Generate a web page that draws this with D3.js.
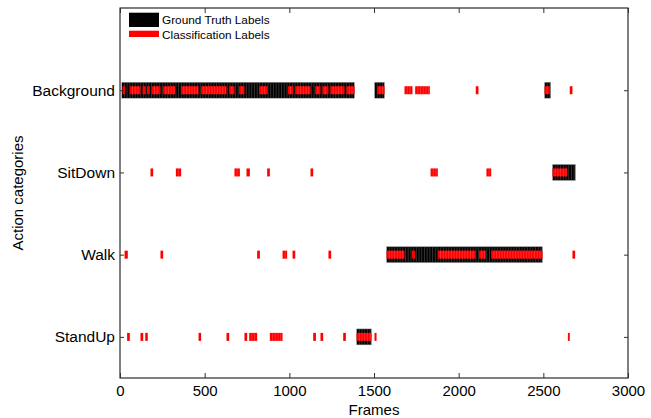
<!DOCTYPE html>
<html>
<head>
<meta charset="utf-8">
<script src="https://cdn.jsdelivr.net/npm/d3@7"></script>
<style>
  html, body { margin: 0; padding: 0; background: #fff; }
  svg { display: block; font-family: "Liberation Sans", Arial, sans-serif; }
</style>
</head>
<body>
<svg id="chart" width="651" height="418"></svg>
<script>
// ---- data ----
const categories = ["StandUp", "Walk", "SitDown", "Background"]; // bottom -> top
const xTicks = [0, 500, 1000, 1500, 2000, 2500, 3000];

// ground truth segments [startFrame, endFrame, category]
const groundTruth = [
  [10, 1385, "Background"],
  [1397, 1485, "StandUp"],
  [1503, 1562, "Background"],
  [1574, 2495, "Walk"],
  [2507, 2543, "Background"],
  [2554, 2690, "SitDown"]
];

// classification segments per category [startFrame, endFrame]
const classBackground = [[15,30],[58,121],[133,152],[160,176],[188,239],[255,326],[361,464],[479,629],[645,676],[704,735],[822,873],[991,1023],[1035,1125],[1153,1184],[1196,1231],[1243,1326],[1338,1385],[1519,1562],[1680,1727],[1743,1830],[2101,2117],[2507,2538],[2656,2672]];
const classSitDown = [[180,196],[330,361],[676,708],[747,767],[869,885],[1125,1141],[1834,1877],[2164,2192],[2554,2641]];
const classWalk = [[27,46],[239,255],[810,826],[960,987],[1019,1035],[1231,1247],[1574,1680],[1723,1743],[1877,2101],[2121,2160],[2192,2495],[2672,2688]];
const classStandUp = [[42,58],[121,137],[149,164],[464,479],[629,645],[735,751],[763,810],[885,960],[1141,1157],[1184,1200],[1318,1334],[1397,1485],[1503,1515],[2645,2656]];

const classification = [
  ["Background", classBackground],
  ["SitDown", classSitDown],
  ["Walk", classWalk],
  ["StandUp", classStandUp]
];

// ---- drawing ----
const svg = d3.select("#chart");
const pLeft = 120, pRight = 628, pTop = 8, pBottom = 378;
const windowFrames = 16;

const x = d3.scaleLinear().domain([0, 3000]).range([pLeft, pRight]);
const y = d3.scaleLinear().domain([0.5, 5]).range([pBottom, pTop]);
const catY = c => y(categories.indexOf(c) + 1);

// ground truth black bars
const gtH = 16;
const gtG = svg.append("g");
gtG.selectAll("rect").data(groundTruth).join("rect")
  .attr("x", d => x(d[0])).attr("width", d => x(d[1]) - x(d[0]))
  .attr("y", d => catY(d[2]) - gtH / 2).attr("height", gtH)
  .attr("fill", "#000").attr("stroke", "#bbb").attr("stroke-width", 0.5);
// window stripes
const gtLines = [];
groundTruth.forEach(d => {
  for (let f = d[0] + windowFrames; f < d[1]; f += windowFrames) gtLines.push([f, d[2]]);
});
gtG.selectAll("line").data(gtLines).join("line")
  .attr("x1", d => x(d[0])).attr("x2", d => x(d[0]))
  .attr("y1", d => catY(d[1]) - gtH / 2).attr("y2", d => catY(d[1]) + gtH / 2)
  .attr("stroke", "#555").attr("stroke-width", 0.6);

// classification red marks
const clH = 8;
const clData = [];
classification.forEach(([c, segs]) => segs.forEach(s => clData.push([s[0], s[1], c])));
const clG = svg.append("g");
clG.selectAll("rect").data(clData).join("rect")
  .attr("x", d => x(d[0])).attr("width", d => Math.max(1.5, x(d[1]) - x(d[0])))
  .attr("y", d => catY(d[2]) - clH / 2).attr("height", clH)
  .attr("fill", "#ff0000");
const clLines = [];
clData.forEach(d => {
  for (let f = d[0] + windowFrames; f < d[1] - 4; f += windowFrames) clLines.push([f, d[2]]);
});
clG.selectAll("line").data(clLines).join("line")
  .attr("x1", d => x(d[0])).attr("x2", d => x(d[0]))
  .attr("y1", d => catY(d[1]) - clH / 2).attr("y2", d => catY(d[1]) + clH / 2)
  .attr("stroke", "#ff7070").attr("stroke-width", 0.4);

// frame
svg.append("rect").attr("x", pLeft).attr("y", pTop)
  .attr("width", pRight - pLeft).attr("height", pBottom - pTop)
  .attr("fill", "none").attr("stroke", "#000").attr("stroke-width", 1);

// axes (ticks inward)
const tickLen = 5;
const xAxisB = d3.axisBottom(x).tickValues(xTicks).tickSize(-tickLen).tickPadding(tickLen + 2).tickFormat(d3.format("d"));
const gxb = svg.append("g").attr("transform", `translate(0,${pBottom})`).call(xAxisB);
const xAxisT = d3.axisTop(x).tickValues(xTicks).tickSize(-tickLen).tickFormat("");
const gxt = svg.append("g").attr("transform", `translate(0,${pTop})`).call(xAxisT);
const yVals = categories.map((c, i) => i + 1);
const yAxisL = d3.axisLeft(y).tickValues(yVals).tickSize(-4).tickPadding(5).tickFormat(d => categories[d - 1]);
const gyl = svg.append("g").attr("transform", `translate(${pLeft},0)`).call(yAxisL);
const yAxisR = d3.axisRight(y).tickValues(yVals).tickSize(-4).tickFormat("");
const gyr = svg.append("g").attr("transform", `translate(${pRight},0)`).call(yAxisR);
[gxb, gxt, gyl, gyr].forEach(g => {
  g.select(".domain").remove();
  g.selectAll(".tick line").attr("stroke", "#333").attr("stroke-width", 1);
  g.selectAll("text").attr("fill", "#000").attr("font-size", 15.5)
    .attr("font-family", "Liberation Sans, Arial, sans-serif");
});
gxb.selectAll("text").attr("font-size", 15);

// axis titles
svg.append("text").attr("x", (pLeft + pRight) / 2).attr("y", 414.5)
  .attr("text-anchor", "middle").attr("font-size", 15).text("Frames");
svg.append("text").attr("transform", `translate(23,${(pTop + pBottom) / 2}) rotate(-90)`)
  .attr("text-anchor", "middle").attr("font-size", 15).text("Action categories");

// legend
const legendItems = [["Ground Truth Labels", "#000", 12.7, 14.3], ["Classification Labels", "#ff0000", 30.7, 6.3]];
const lg = svg.append("g");
legendItems.forEach(([label, col, yy, h], i) => {
  lg.append("rect").attr("x", 129).attr("y", yy).attr("width", 30).attr("height", h).attr("fill", col);
  lg.append("text").attr("x", 162).attr("y", i === 0 ? 24 : 38.5)
    .attr("font-size", 11.8).text(label);
});
</script>
</body>
</html>
